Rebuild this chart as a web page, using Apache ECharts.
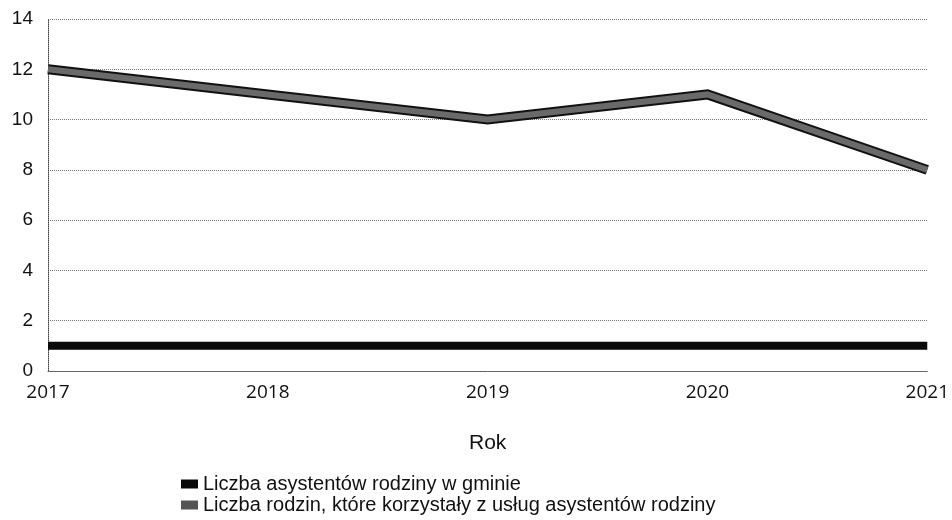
<!DOCTYPE html>
<html>
<head>
<meta charset="utf-8">
<script src="https://cdn.jsdelivr.net/npm/echarts@6/dist/echarts.min.js"></script>
<style>
  html, body { margin: 0; padding: 0; background: #fff; }
  #chart { width: 952px; height: 520px; }
</style>
</head>
<body>
<div id="chart"></div>
<script>
// Years on the category axis
const years = ['2017', '2018', '2019', '2020', '2021'];
// Number of family assistants in the municipality
const assistants = [1, 1, 1, 1, 1];
// Number of families using family-assistant services
const families = [12, 11, 10, 11, 8];

const nameAssistants = 'Liczba asystentów rodziny w gminie';
const nameFamilies = 'Liczba rodzin, które korzystały z usług asystentów rodziny';

const chart = echarts.init(document.getElementById('chart'));
chart.setOption({
  animation: false,
  backgroundColor: '#ffffff',
  grid: { left: 48, right: 24, top: 19, bottom: 149 },
  legend: {
    orient: 'vertical',
    left: 176,
    top: 469,
    icon: 'rect',
    itemWidth: 17,
    itemHeight: 9,
    itemGap: 1,
    data: [nameAssistants, nameFamilies],
    textStyle: { fontFamily: 'Liberation Sans, Arial, sans-serif', fontSize: 20, color: '#111' }
  },
  xAxis: {
    type: 'category',
    data: years,
    boundaryGap: false,
    name: 'Rok',
    nameLocation: 'middle',
    nameGap: 62,
    nameTextStyle: { fontFamily: 'Liberation Sans, Arial, sans-serif', fontSize: 21, color: '#111' },
    axisLine: { lineStyle: { color: '#666', width: 1 } },
    axisTick: { show: false },
    axisLabel: { fontFamily: 'Open Sans, sans-serif', fontSize: 19, color: '#111', margin: 12 },
    splitLine: { show: false }
  },
  yAxis: {
    type: 'value',
    min: 0,
    max: 14,
    interval: 2,
    axisLine: { show: true, lineStyle: { color: '#444', type: 'dotted', width: 1 } },
    axisTick: { show: false },
    axisLabel: { fontFamily: 'Liberation Sans, Arial, sans-serif', fontSize: 19, color: '#111', margin: 15 },
    splitLine: { lineStyle: { color: '#777', type: 'dotted', width: 1 } }
  },
  series: [
    {
      name: nameAssistants,
      type: 'line',
      data: assistants,
      showSymbol: false,
      color: '#0a0a0a',
      lineStyle: { width: 8, color: '#0a0a0a', cap: 'butt' }
    },
    {
      // dark outline under the grey line
      name: 'outline',
      type: 'line',
      data: families,
      showSymbol: false,
      silent: true,
      color: '#111',
      lineStyle: { width: 10, color: '#111', cap: 'butt', join: 'miter' }
    },
    {
      name: nameFamilies,
      type: 'line',
      data: families,
      showSymbol: false,
      color: '#555',
      lineStyle: { width: 6, color: '#6a6a6a', cap: 'butt', join: 'miter' }
    }
  ]
});
</script>
</body>
</html>
